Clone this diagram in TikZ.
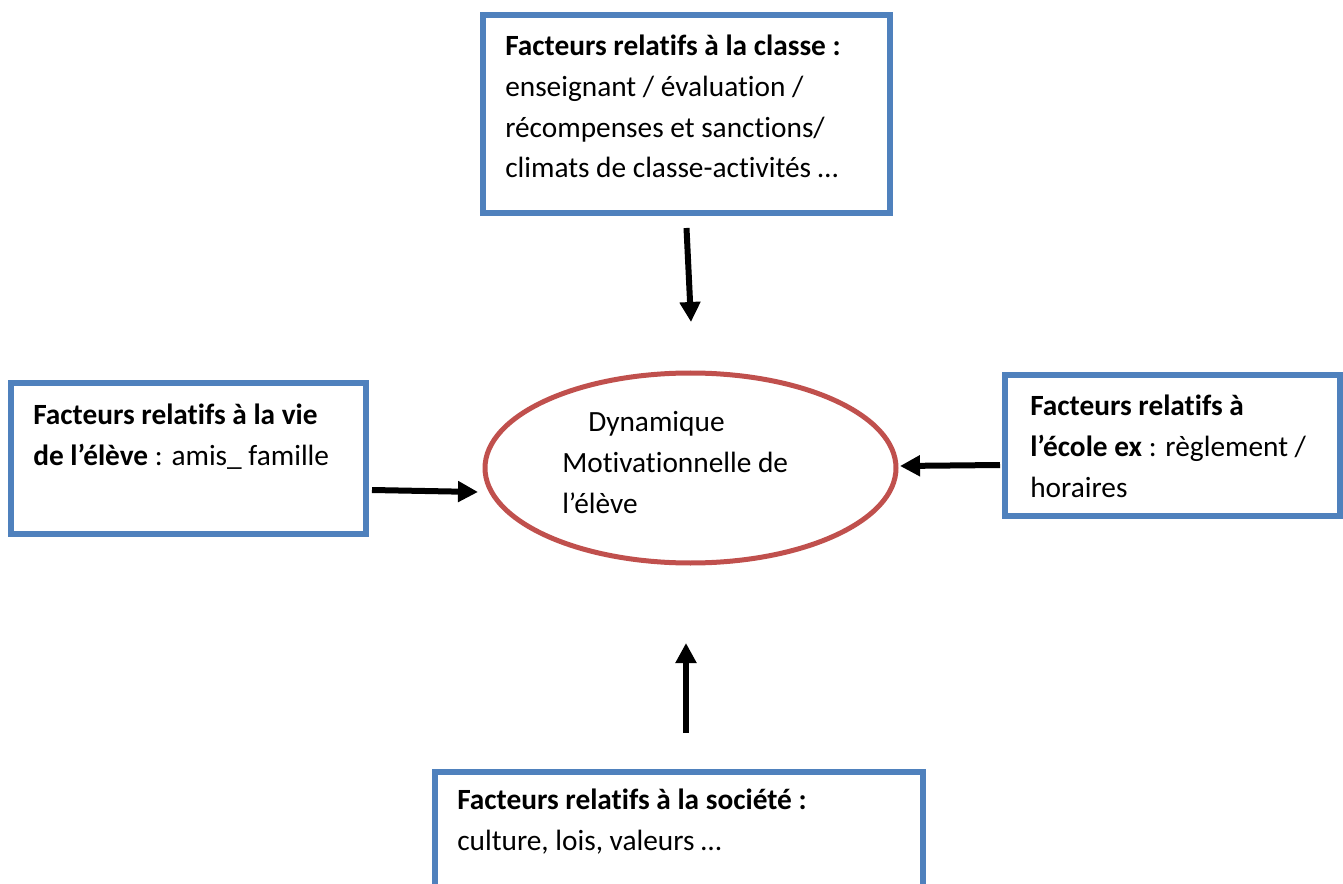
\documentclass[tikz,border=0pt]{standalone}
\usepackage{fontspec}
\setmainfont{Carlito}[Ligatures=NoCommon]
\usetikzlibrary{shapes.geometric,arrows.meta,calc}
\newcommand\px{0.75pt}
\definecolor{boxblue}{HTML}{4F81BD}
\definecolor{ringred}{HTML}{C0504D}
\begin{document}
\begin{tikzpicture}[x=0.75pt,y=-0.75pt,
  factbox/.style={draw=boxblue,line width=4.5pt,outer sep=0pt,inner sep=0pt},
  facttext/.style={anchor=base west,align=left,inner sep=0pt,font=\fontsize{22}{30.6}\selectfont},
  arr/.style={line width=4.5pt,-{Triangle[width=15pt,length=15pt]}}]
\clip (0,0) rectangle (1343,884);
\node[factbox,minimum width=407*\px,minimum height=198*\px] (tbox) at (686.5,114) {};
\node[factbox,minimum width=355*\px,minimum height=151*\px] (lbox) at (188.5,458.5) {};
\node[factbox,minimum width=335*\px,minimum height=141*\px] (rbox) at (1172.5,445.5) {};
\node[factbox,minimum width=488*\px,minimum height=128*\px] (bbox) at (679,836) {};
\node[ellipse,draw=ringred,line width=3.75pt,outer sep=0pt,inner sep=0pt,
  minimum width=411*\px,minimum height=190*\px] (ring) at (690.5,468) {};
\node[facttext] (ttext) at (505,178) {\textbf{Facteurs relatifs à la classe :}\\
  enseignant / évaluation /\\ récompenses et sanctions/\\ climats de classe-activités …};
\node[facttext] (ltext) at (33,465) {\textbf{Facteurs relatifs à la vie}\\
  \textbf{de l’élève} : amis\_ famille};
\node[facttext] (rtext) at (1030,497) {\textbf{Facteurs relatifs à}\\
  \textbf{l’école ex} : règlement /\\ horaires};
\node[facttext] (btext) at (457,850) {\textbf{Facteurs relatifs à la société :}\\
  culture, lois, valeurs …};
\node[facttext] (ringtext) at (562,513) {\hspace{19.5pt}Dynamique\\
  Motivationnelle de\\ l’élève};
\draw[arr] ($(tbox.south)+(0,15)$) -- ($(ring.north)+(0.5,-51)$);
\draw[arr] ($(lbox.east)+(6,31.5)$) -- ($(ring.west)+(-7,24)$);
\draw[arr] ($(rbox.west)+(-5,19.5)$) -- ($(ring.east)+(4,-2)$);
\draw[arr] ($(bbox.north)+(7,-39)$) -- ($(ring.south)+(-4.5,80)$);
\end{tikzpicture}
\end{document}
